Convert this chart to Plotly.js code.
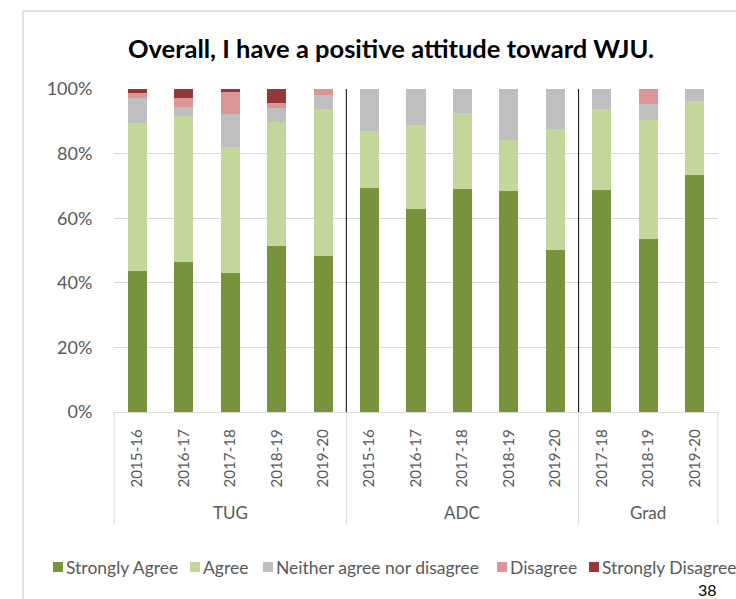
<!DOCTYPE html>
<html>
<head>
<meta charset="utf-8">
<script src="https://cdn.plot.ly/plotly-3.0.1.min.js"></script>
<style>html,body{margin:0;padding:0;background:#fff;}#chart{width:736px;height:599px;}</style>
</head>
<body>
<div id="chart"></div>
<script>
// ---- Data ----
const groups = ['TUG','TUG','TUG','TUG','TUG','ADC','ADC','ADC','ADC','ADC','Grad','Grad','Grad'];
const years = ['2015-16','2016-17','2017-18','2018-19','2019-20','2015-16','2016-17','2017-18','2018-19','2019-20','2017-18','2018-19','2019-20'];
const seriesNames = ['Strongly Agree','Agree','Neither agree nor disagree','Disagree','Strongly Disagree'];
const stronglyAgree = [43.7, 46.4, 43.0, 51.4, 48.3, 69.3, 62.8, 69.0, 68.4, 50.2, 68.7, 53.6, 73.4];
const agree = [45.8, 45.2, 39.0, 38.4, 45.4, 17.7, 26.2, 23.5, 15.9, 37.3, 25.1, 36.7, 23.0];
const neither = [7.6, 2.7, 10.2, 4.3, 4.3, 13.0, 11.0, 7.5, 15.7, 12.5, 6.2, 5.0, 3.6];
const disagree = [1.6, 2.9, 6.8, 1.6, 2.0, 0, 0, 0, 0, 0, 0, 4.7, 0];
const stronglyDisagree = [1.3, 2.8, 1.0, 4.3, 0, 0, 0, 0, 0, 0, 0, 0, 0];
const yTicks = [0, 20, 40, 60, 80, 100];

// ---- Styles ----
const colors = ['#77933C','#C3D69B','#BFBFBF','#D99694','#953735'];
const values = [stronglyAgree, agree, neither, disagree, stronglyDisagree];
const FONT = 'Lato, "Open Sans", sans-serif';
const TXT = '#595959';

const uniqueGroups = [...new Set(groups)];
// blank (whitespace) outer keys keep the groups distinct on the axis; visible group names are annotations
const groupKeys = groups.map(g => '\u00a0'.repeat(uniqueGroups.indexOf(g) + 1));

const traces = values.map((v, i) => ({
  type: 'bar',
  name: seriesNames[i],
  x: [groupKeys, years],
  y: v,
  marker: {color: colors[i], line: {width: 0}},
  showlegend: false,
  hoverinfo: 'name+y'
}));

// pixel -> paper helpers (plot area: x 114..718, y 89..412)
const L = 114, R = 718, T = 89, B = 412;
const px = p => (p - L) / (R - L);
const py = p => (B - p) / (B - T);
const n = groups.length;

const shapes = [
  // chart border (left + top)
  {type:'line', xref:'paper', yref:'paper', x0:px(23), x1:px(23), y0:py(11), y1:py(640), line:{color:'#D9D9D9', width:1.5}},
  {type:'line', xref:'paper', yref:'paper', x0:px(23), x1:px(760), y0:py(11), y1:py(11), line:{color:'#D9D9D9', width:1.5}}
];

// group boundaries (from the groups array): black line inside plot + gray divider under the axis
const bounds = [0];
groups.forEach((g, i) => { if (i > 0 && g !== groups[i - 1]) bounds.push(i); });
bounds.push(n);
bounds.forEach(k => {
  const xp = k / n;
  shapes.push({type:'line', xref:'paper', yref:'paper', x0:xp, x1:xp, y0:0, y1:py(525), line:{color:'#D9D9D9', width:1}});
  if (k > 0 && k < n) {
    shapes.push({type:'line', xref:'paper', yref:'paper', x0:xp, x1:xp, y0:0, y1:1, line:{color:'#000', width:1}});
  }
});

const annotations = [
  {text:'38', xref:'paper', yref:'paper', x:px(719), y:py(589), xanchor:'right', yanchor:'middle', showarrow:false, font:{family:FONT, size:16, color:'#000'}}
];

// group name annotations centred under each group
uniqueGroups.forEach(g => {
  const idx = groups.map((v, i) => v === g ? i : -1).filter(i => i >= 0);
  const c = (idx[0] + idx[idx.length - 1] + 1) / 2 / n;
  annotations.push({text:g, xref:'paper', yref:'paper', x:c, y:py(512), xanchor:'center', yanchor:'middle', showarrow:false, font:{family:FONT, size:17, color:TXT}});
});

// custom legend
const legendX = [53, 190, 263, 497, 589];
const legY = 567;
seriesNames.forEach((nm, i) => {
  shapes.push({type:'rect', xref:'paper', yref:'paper', x0:px(legendX[i]), x1:px(legendX[i]+10), y0:py(legY-5), y1:py(legY+5), fillcolor:colors[i], line:{width:0}});
  annotations.push({text:nm, xref:'paper', yref:'paper', x:px(legendX[i]+11), y:py(legY), xanchor:'left', yanchor:'middle', showarrow:false, font:{family:FONT, size:17.5, color:TXT}});
});

const layout = {
  width: 736, height: 599,
  margin: {l: L, r: 736 - R, t: T, b: 599 - B, pad: 0},
  paper_bgcolor: '#fff', plot_bgcolor: '#fff',
  title: {text: 'Overall, I have a positive attitude toward WJU.', x: 391/736, xref:'container', xanchor:'center', y: 1 - 49/599, yref:'container', yanchor:'middle', font: {family: FONT, size: 25.5, color: '#000', weight: 'bold'}},
  barmode: 'stack',
  bargap: 0.59,
  font: {family: FONT, color: TXT, size: 17},
  xaxis: {
    type: 'multicategory',
    tickangle: -90,
    tickfont: {family: FONT, size: 15.2, color: TXT},
    ticklabelstandoff: 10,
    showline: true, linecolor: '#D9D9D9', linewidth: 1,
    showdividers: false,
    ticks: '', showgrid: false, zeroline: false,
    fixedrange: true
  },
  yaxis: {
    range: [0, 100],
    tickvals: yTicks,
    ticktext: yTicks.map(t => t + '%'),
    tickfont: {family: FONT, size: 18, color: TXT},
    ticks: 'outside', ticklen: 17, tickcolor: 'rgba(0,0,0,0)',
    showgrid: true, gridcolor: '#D9D9D9', gridwidth: 1,
    zeroline: false, showline: false,
    fixedrange: true
  },
  shapes: shapes,
  annotations: annotations
};

Plotly.newPlot('chart', traces, layout, {displayModeBar: false, staticPlot: true});
</script>
</body>
</html>
